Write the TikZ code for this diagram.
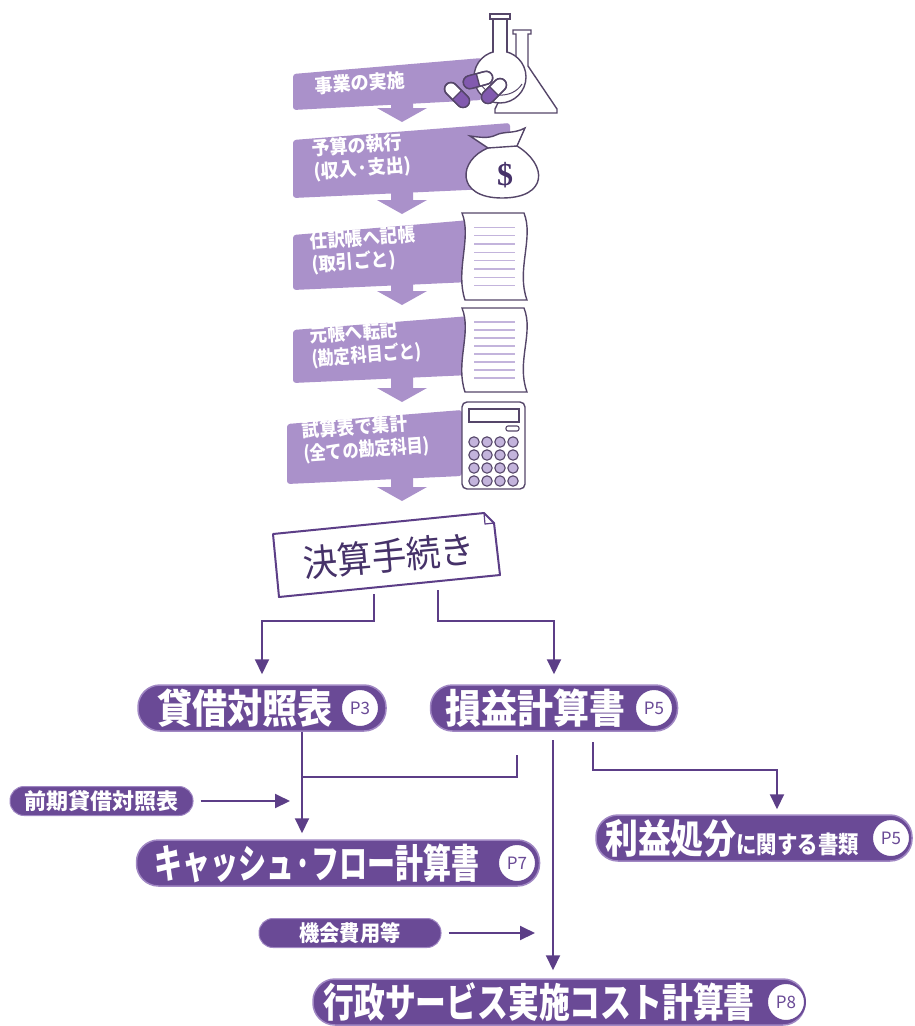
\documentclass[tikz,border=0pt]{standalone}
\usepackage{fontspec}
\usepackage{graphicx}
\newfontfamily\jp{Noto Sans CJK JP}
\newfontfamily\dollarfont{Liberation Serif}
\usetikzlibrary{arrows.meta}

\definecolor{bandc}{RGB}{170,145,202}
\definecolor{pillc}{RGB}{106,74,150}
\definecolor{pillrim}{RGB}{160,135,195}
\definecolor{linec}{RGB}{92,62,135}
\definecolor{inkc}{RGB}{70,50,105}
\definecolor{iconc}{RGB}{85,70,105}
\definecolor{capc}{RGB}{130,90,175}
\definecolor{paperl}{RGB}{195,180,220}

% horizontal squeeze of a text
\newcommand\sqz[2]{\scalebox{#1}[1]{#2}}
% fixed blank room that survives the end of a node text
\newcommand\gap[1]{\hbox to #1{\hfil}}

% a capsule centred at (#1,#2), turned by #3; the coloured half lies on +x
\newcommand\capsule[3]{%
  \begin{scope}[shift={(#1,#2)}, rotate=#3]
    \filldraw[icon, fill=white, rounded corners=6.5pt] (-15,-6.5) rectangle (15,6.5);
    \begin{scope}
      \clip (0,-8) rectangle (16,8);
      \fill[capc, rounded corners=6.5pt] (-15,-6.5) rectangle (15,6.5);
    \end{scope}
    \draw[icon, rounded corners=6.5pt] (-15,-6.5) rectangle (15,6.5);
    \draw[icon] (0,-6.5) -- (0,6.5);
  \end{scope}}

% a sheet of paper with wavy sides, from y=#1 to y=#2
\newcommand\sheet[2]{%
  \filldraw[icon, fill=white] (462,#1) -- (524,#1)
    .. controls (534,#1+25) and (516,#2-30) .. (527,#2) -- (465,#2)
    .. controls (455,#2-30) and (472,#1+25) .. (462,#1) -- cycle;
  \foreach \k in {1,...,8}
    \draw[paperl, line width=1.6pt] (474,{#1+6+\k*(#2-#1-12)/9}) -- (515,{#1+6+\k*(#2-#1-12)/9});}

\tikzset{
  band/.style={fill=bandc, rounded corners=3pt},
  bandtxt/.style={text=white, font=\jp\bfseries\fontsize{19}{23}\selectfont, align=left,
    inner sep=0pt, rotate=4, anchor=west},
  pill/.style={fill=pillc, draw=pillrim, line width=1.5pt, rounded corners=22pt,
    inner sep=0pt, text=white, minimum height=46pt, font=\jp\bfseries\fontsize{40}{40}\selectfont},
  smallpill/.style={fill=pillc, draw=pillrim, line width=1pt, rounded corners=14pt,
    inner sep=0pt, text=white, minimum height=29pt, font=\jp\bfseries\fontsize{22}{22}\selectfont},
  badge/.style={circle, fill=white, draw=pillc, line width=2pt, minimum size=38pt,
    inner sep=0pt, text=pillc, font=\jp\fontsize{17}{17}\selectfont},
  conn/.style={draw=linec, line width=2pt},
  arr/.style={conn, -{Triangle[width=14pt,length=15pt]}},
  icon/.style={draw=iconc, line width=1.4pt},
  kessan/.style={text=inkc, font=\jp\fontsize{37}{37}\selectfont, rotate=5, inner sep=0pt},
}

\begin{document}
\begin{tikzpicture}[x=1pt,y=-1pt]
\useasboundingbox (0,0) rectangle (915,1026);

% ---- procedure steps: down arrows between the bands
\foreach \top/\tip in {100/122, 185/214, 278/305, 372/402, 472/501}
  \fill[bandc] (391,\top) -- (413,\top) -- (413,\tip-14) -- (427,\tip-14)
    -- (402,\tip) -- (377,\tip-14) -- (391,\tip-14) -- cycle;

% ---- step bands
\fill[band] (293,74) -- (482,58) -- (482,100) -- (293,110) -- cycle;
\fill[band] (293,140) -- (510,123) -- (510,188) -- (293,198) -- cycle;
\fill[band] (293,235) -- (470,220) -- (470,282) -- (293,290) -- cycle;
\fill[band] (293,330) -- (470,316) -- (470,375) -- (293,383) -- cycle;
\fill[band] (287,424) -- (462,410) -- (462,476) -- (287,484) -- cycle;

\node[bandtxt] (s1) at (315,86) {\sqz{0.95}{事業の実施}};
\node[bandtxt] (s2) at (313,161) {\sqz{0.95}{予算の執行}\\\sqz{0.95}{(収入·支出)}};
\node[bandtxt] (s3) at (311,254) {\sqz{0.92}{仕訳帳へ記帳}\\\sqz{0.92}{(取引ごと)}};
\node[bandtxt] (s4) at (311,348) {\sqz{0.92}{元帳へ転記}\\\sqz{0.85}{(勘定科目ごと)}};
\node[bandtxt] (s5) at (303,443) {\sqz{0.92}{試算表で集計}\\\sqz{0.85}{(全ての勘定科目)}};

% ---- icons: flasks and capsules
\filldraw[icon, fill=white] (513,30) -- (531,30) -- (531,34) -- (528,34) -- (528,66)
  -- (557,109) -- (557,113) -- (495,113) -- (495,109) -- (516,66) -- (516,34)
  -- (513,34) -- cycle;
\filldraw[icon, fill=white] (500,77) circle (26);
\fill[white] (493.8,17) rectangle (506.2,56);
\draw[icon] (493,19) -- (493,52) (507,19) -- (507,52);
\filldraw[icon, fill=white] (490,14) rectangle (510,19);
\draw[icon, line width=1pt] (480,82) .. controls (486,98) and (512,100) .. (522,84);
\capsule{478}{80}{195}
\capsule{457}{95}{-45}
\capsule{494}{91}{225}

% ---- icon: money bag
\filldraw[icon, fill=white] (488,148) .. controls (458,160) and (455,198) .. (502,198)
  .. controls (548,198) and (548,165) .. (517,146) -- (525,128)
  .. controls (514,134) and (504,131) .. (496,135)
  .. controls (488,139) and (479,137) .. (470,136) -- cycle;
\draw[icon] (488,148) -- (517,146);
\node[text=inkc, font=\dollarfont\bfseries\fontsize{32}{32}\selectfont, inner sep=0pt]
  (dollar) at (505,175) {\$};

% ---- icons: journal and ledger sheets
\sheet{213}{300}
\sheet{308}{392}

% ---- icon: calculator
\filldraw[icon, fill=white, rounded corners=5pt] (462,402) rectangle (525,489);
\draw[icon, line width=1.1pt] (469,409) rectangle (519,422);
\draw[icon, line width=1.1pt, rounded corners=2pt] (506,426) rectangle (519,431);
\foreach \i in {0,...,3}
  \foreach \j in {0,...,3}
    \filldraw[icon, line width=1.1pt, fill=paperl] (474+\i*13,442+\j*13) circle (5.2);

% ---- closing procedure card
\filldraw[draw=linec, fill=white, line width=2pt, line join=round]
  (273,534) -- (484,513) -- (494,523) -- (500,575) -- (279,597) -- cycle;
\draw[linec, line width=1.2pt, line join=round] (484,513) -- (485,524) -- (494,523);
\node[kessan] (kessan) at (389,556) {\sqz{0.93}{決算手続き}};
\coordinate (kl) at (374,594);
\coordinate (kr) at (438,590);

% ---- financial statements
\node[pill, minimum width=248pt] (bs) at (262,708) {\sqz{0.88}{貸借対照表}\gap{34pt}};
\node[pill, minimum width=247pt] (pl) at (554,708) {\sqz{0.9}{損益計算書}\gap{38pt}};
\node[pill, minimum width=403pt] (cf) at (338,863) {\sqz{0.7}{キャッシュ·フロー計算書}\gap{42pt}};
\node[pill, minimum width=316pt] (rp) at (754,838)
  {\sqz{0.82}{利益処分}\sqz{0.85}{\fontsize{24}{24}\selectfont に関する書類}\gap{44pt}};
\node[pill, minimum width=492pt] (gc) at (559,1002) {\sqz{0.77}{行政サービス実施コスト計算書}\gap{40pt}};

\node[smallpill, minimum width=183pt] (prev) at (101.5,801) {前期貸借対照表};
\node[smallpill, minimum width=182pt] (opp) at (350,933) {\sqz{0.92}{機会費用等}};

% ---- connectors
\draw[arr, shorten >=10pt] (kl) -- (kl |- 0,621) -| (bs.north);
\draw[arr, shorten >=10pt] (kr) -- (kr |- 0,621) -| (pl.north);

\coordinate (bsB) at (bs.south -| 302,0);
\draw[arr, shorten >=6pt] (bsB) -- (cf.north -| 302,0);
\coordinate (plA) at (517,755);
\coordinate (jn) at (302,777);
\draw[conn] (plA) |- (jn);
\coordinate (prevT) at (290,801);
\draw[arr] ([xshift=7pt]prev.east) -- (prevT);

\coordinate (plB) at (553,740);
\draw[arr, shorten >=8pt] (plB) -- (gc.north -| 553,0);

\coordinate (plC) at (593,742);
\draw[arr, shorten >=5pt] (plC) |- (777,770) -- (rp.north -| 777,0);

\coordinate (oppT) at (535,933);
\draw[arr] ([xshift=7pt]opp.east) -- (oppT);

% ---- page badges on the statements
\node[badge] (bsP) at (360,708) {P3};
\node[badge] (plP) at (654,708) {P5};
\node[badge] (cfP) at (517,863) {P7};
\node[badge] (rpP) at (891,838) {P5};
\node[badge] (gcP) at (786,1002) {P8};
\end{tikzpicture}
\end{document}
